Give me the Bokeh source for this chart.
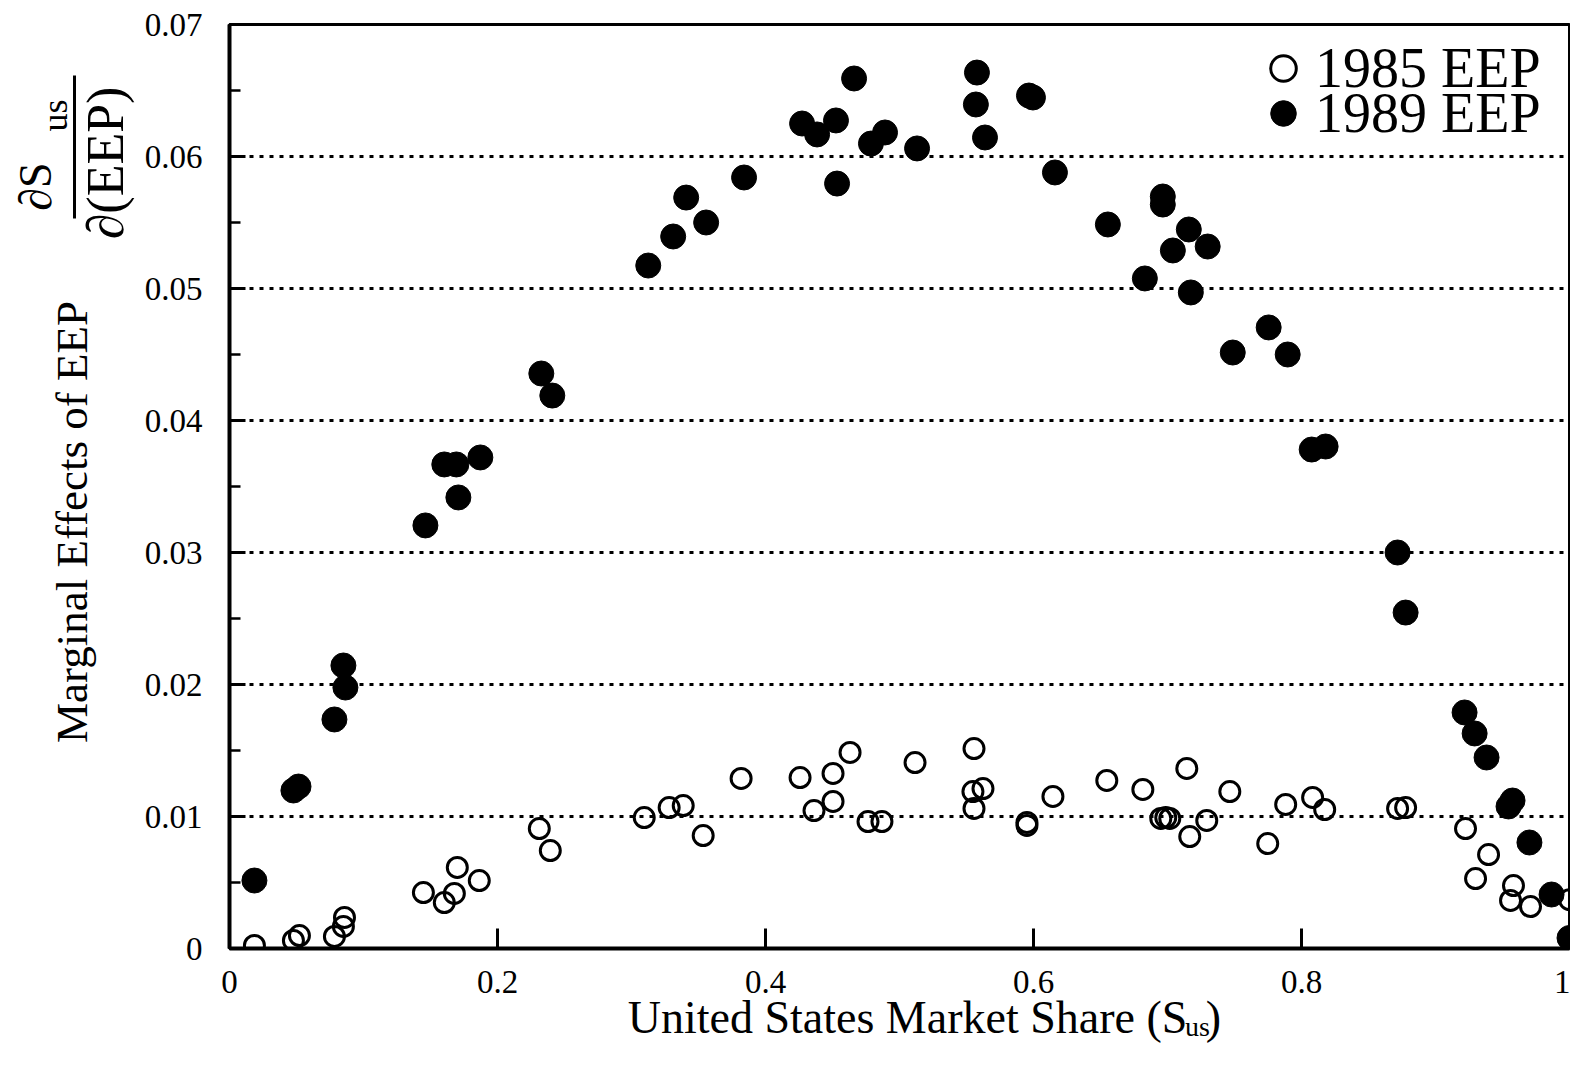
from bokeh.plotting import figure
from bokeh.models import (FixedTicker, CustomJSTickFormatter, LinearAxis,
                          Legend, LegendItem, Range1d, ColumnDataSource)
from bokeh.embed import file_html
from bokeh.resources import INLINE

# ---------------- data ----------------
share_1985 = [0.0186, 0.0477, 0.0522, 0.0783, 0.0858, 0.0850, 0.1447, 0.1603, 0.1678, 0.1700,
              0.1864, 0.2312, 0.2394, 0.3095, 0.3281, 0.3386, 0.3535, 0.3818, 0.4258, 0.4362,
              0.4504, 0.4504, 0.4631, 0.4765, 0.4869, 0.5116, 0.5556, 0.5548, 0.5623, 0.5556,
              0.5951, 0.5951, 0.6145, 0.6547, 0.6816, 0.6950, 0.6987, 0.7017, 0.7144, 0.7166,
              0.7293, 0.7465, 0.7748, 0.7882, 0.8083, 0.8173, 0.8717, 0.8777, 0.9224, 0.9299,
              0.9396, 0.9560, 0.9582, 0.9709, 1.0000]
effect_1985 = [0.00023, 0.00061, 0.00098, 0.00091, 0.00235, 0.00167, 0.00424, 0.00348, 0.00417, 0.00614,
               0.00515, 0.00909, 0.00742, 0.00992, 0.01068, 0.01083, 0.00856, 0.01288, 0.01295, 0.01045,
               0.01326, 0.01114, 0.01485, 0.00962, 0.00962, 0.01409, 0.01515, 0.01189, 0.01212, 0.01061,
               0.00955, 0.00932, 0.01152, 0.01273, 0.01205, 0.00985, 0.00992, 0.00985, 0.01364, 0.00848,
               0.00970, 0.01189, 0.00795, 0.01091, 0.01144, 0.01053, 0.01061, 0.01068, 0.00909, 0.00530,
               0.00712, 0.00364, 0.00477, 0.00318, 0.00370]

share_1989 = [0.0186, 0.0477, 0.0515, 0.0783, 0.0850, 0.0865, 0.1462, 0.1603, 0.1693, 0.1708,
              0.1872, 0.2327, 0.2409, 0.3125, 0.3311, 0.3408, 0.3557, 0.3840, 0.4273, 0.4385,
              0.4526, 0.4534, 0.4661, 0.4787, 0.4892, 0.5131, 0.5578, 0.5570, 0.5638, 0.5966,
              0.5996, 0.6160, 0.6555, 0.6831, 0.6965, 0.6965, 0.7040, 0.7159, 0.7174, 0.7300,
              0.7487, 0.7755, 0.7897, 0.8076, 0.8180, 0.8717, 0.8777, 0.9217, 0.9292, 0.9381,
              0.9545, 0.9575, 0.9701, 0.9866, 1.0000]
effect_1989 = [0.00515, 0.01197, 0.01227, 0.01735, 0.02144, 0.01977, 0.03205, 0.03667, 0.03667, 0.03417,
               0.03720, 0.04356, 0.04189, 0.05174, 0.05394, 0.05689, 0.05500, 0.05841, 0.06250, 0.06167,
               0.06273, 0.05795, 0.06591, 0.06098, 0.06182, 0.06061, 0.06636, 0.06394, 0.06144, 0.06462,
               0.06447, 0.05879, 0.05485, 0.05076, 0.05697, 0.05636, 0.05288, 0.05447, 0.04970, 0.05318,
               0.04515, 0.04705, 0.04500, 0.03780, 0.03803, 0.03000, 0.02545, 0.01788, 0.01629, 0.01447,
               0.01076, 0.01121, 0.00803, 0.00409, 0.00080]

series_names = ["1985 EEP", "1989 EEP"]

x_ticks = [0.0, 0.2, 0.4, 0.6, 0.8, 1.0]
x_tick_labels = ["0", "0.2", "0.4", "0.6", "0.8", "1"]
y_ticks = [0.0, 0.01, 0.02, 0.03, 0.04, 0.05, 0.06, 0.07]
y_tick_labels = ["0", "0.01", "0.02", "0.03", "0.04", "0.05", "0.06", "0.07"]
y_minor_ticks = [0.005, 0.015, 0.025, 0.035, 0.045, 0.055, 0.065]

x_title = "United States Market Share (S"
x_title_sub = "us"
x_title_end = ")"
y_title = "Marginal Effects of EEP"
frac_num = "\u2202S"
frac_num_sub = "us"
frac_den = "\u2202(EEP)"

FONT = "Liberation Serif"

# ---------------- figure ----------------
p = figure(width=1570, height=1069, output_backend="svg", toolbar_location=None,
           x_range=Range1d(0, 1), y_range=Range1d(0, 0.07),
           min_border_left=229, min_border_top=24, min_border_right=1, min_border_bottom=121,
           background_fill_color="white", border_fill_color="white")

p.outline_line_color = "black"
p.outline_line_width = 3

def fmt(vals, labs):
    return CustomJSTickFormatter(args=dict(vals=vals, labs=labs), code="""
        for (let i = 0; i < vals.length; i++) {
            if (Math.abs(vals[i] - tick) < 1e-9) return labs[i];
        }
        return "";
    """)

xa = p.xaxis[0]
xa.ticker = FixedTicker(ticks=x_ticks)
xa.formatter = fmt(x_ticks, x_tick_labels)
xa.major_tick_in = 20
xa.major_tick_out = 0
xa.minor_tick_line_color = None
xa.axis_line_width = 4
xa.major_tick_line_width = 3
xa.major_label_text_font = FONT
xa.major_label_text_font_size = "33px"
xa.major_label_text_color = "black"
xa.major_label_standoff = 22

ya = p.yaxis[0]
ya.ticker = FixedTicker(ticks=y_ticks, minor_ticks=y_minor_ticks)
ya.formatter = fmt(y_ticks, y_tick_labels)
ya.major_tick_in = 16
ya.major_tick_out = 0
ya.minor_tick_in = 11
ya.minor_tick_out = 0
ya.axis_line_width = 4
ya.major_tick_line_width = 3
ya.minor_tick_line_width = 2.5
ya.major_label_text_font = FONT
ya.major_label_text_font_size = "33px"
ya.major_label_text_color = "black"
ya.major_label_standoff = 27

p.xgrid.grid_line_color = None
p.ygrid.ticker = FixedTicker(ticks=y_ticks)
p.ygrid.grid_line_color = "black"
p.ygrid.grid_line_width = 3
p.ygrid.grid_line_dash = "4 6"

# ---------------- data marks ----------------
src85 = ColumnDataSource(dict(x=share_1985, y=effect_1985))
src89 = ColumnDataSource(dict(x=share_1989, y=effect_1989))

r85 = p.scatter("x", "y", source=src85, size=20, marker="circle",
                fill_color=None, line_color="black", line_width=3)
r89 = p.scatter("x", "y", source=src89, size=25, marker="circle",
                fill_color="black", line_color="black", line_width=1)

def make_legend(name, rend, loc):
    return Legend(items=[LegendItem(label=name, renderers=[rend])],
                  location=loc,
                  label_text_font=FONT, label_text_font_size="56px", label_text_color="black",
                  glyph_width=64, glyph_height=72,
                  spacing=0, label_standoff=0, padding=0, margin=0,
                  border_line_color=None, background_fill_alpha=0)

p.add_layout(make_legend(series_names[0], r85, (1022, 844)))
p.add_layout(make_legend(series_names[1], r89, (1022, 799)))

# ---------------- titles as tick labels of bare axes (not clipped) ----------------
def bare_axis(pos, texts):
    ax = LinearAxis(ticker=FixedTicker(ticks=pos), formatter=fmt(pos, texts))
    ax.axis_line_color = None
    ax.major_tick_line_color = None
    ax.minor_tick_line_color = None
    ax.major_tick_in = 0
    ax.major_tick_out = 0
    ax.minor_tick_in = 0
    ax.minor_tick_out = 0
    ax.major_label_standoff = 0
    return ax

def text_axis(side, pos, texts, size, standoff, orient):
    ax = bare_axis(pos, texts)
    ax.major_label_text_font = FONT
    ax.major_label_text_font_size = size
    ax.major_label_text_color = "black"
    ax.major_label_standoff = standoff
    ax.major_label_orientation = orient
    p.add_layout(ax, side)
    return ax

# left side, stacked outwards from the y axis
text_axis("left", [0.05951], [frac_den], "52px", 7, "parallel")
spacer = bare_axis([], [])
spacer.major_tick_out = 5
p.add_layout(spacer, "left")
bar = bare_axis([], [])
bar.bounds = (0.0553, 0.06614)
bar.axis_line_color = "black"
bar.axis_line_width = 3
p.add_layout(bar, "left")
text_axis("left", [0.03231], [y_title], "45px", -23, "parallel")
text_axis("left", [0.06311], [frac_num_sub], "36px", -31, "parallel")
text_axis("left", [0.05773], [frac_num], "46px", -29, "parallel")

# below, stacked downwards from the x axis
text_axis("below", [0.7224], [x_title_sub], "28px", 15, "horizontal")
text_axis("below", [0.5060, 0.7343], [x_title, x_title_end], "46px", -53, "horizontal")

open("out.html", "w").write(file_html(p, INLINE))
